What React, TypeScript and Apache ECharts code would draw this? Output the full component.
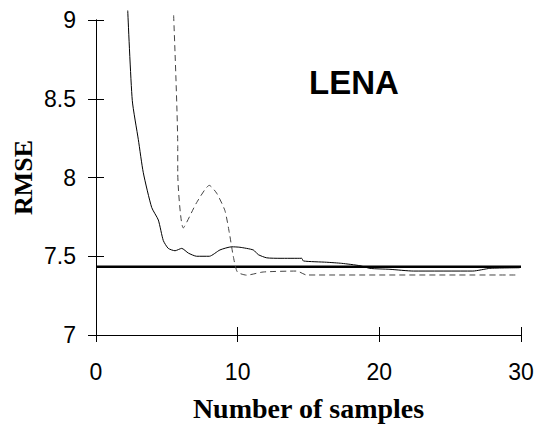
import React, { useEffect, useRef } from "react";
import * as echarts from "echarts";

const xTicks = [0, 10, 20, 30];
const yTicks = [7, 7.5, 8, 8.5, 9];
const title = "LENA";
const yName = "RMSE";
const xName = "Number of samples";

const solidX = [2.24, 2.56, 2.99, 3.34, 3.93, 4.4, 4.75, 5.1, 5.58, 6.05, 6.52, 7.1, 8.0, 8.75, 9.58, 10.16, 11.1, 11.46, 12.05, 12.99, 14.52, 14.64, 16.28, 17.34, 18.63, 19.34, 20.75, 22.4, 26.6, 27.8, 29.9];
const solidY = [9.06, 8.49, 8.24, 8.03, 7.81, 7.73, 7.6, 7.55, 7.535, 7.55, 7.52, 7.5, 7.5, 7.54, 7.56, 7.557, 7.54, 7.51, 7.49, 7.487, 7.487, 7.47, 7.462, 7.455, 7.44, 7.423, 7.417, 7.406, 7.406, 7.423, 7.427];

const dashedX = [5.48, 5.77, 5.77, 6.16, 7.1, 8.0, 8.52, 9.1, 9.41, 9.69, 9.98, 10.64, 11.8, 14.17, 14.87, 29.6];
const dashedY = [9.03, 8.196, 8.03, 7.68, 7.84, 7.95, 7.9, 7.79, 7.65, 7.5, 7.4, 7.38, 7.4, 7.406, 7.381, 7.381];

const refX = [0, 30];
const refY = [7.434, 7.434];

const zip = (xs: number[], ys: number[]) => xs.map((x, i) => [x, ys[i]]);

export default function App() {
  const ref = useRef<HTMLDivElement>(null);
  useEffect(() => {
    if (!ref.current) return;
    const chart = echarts.init(ref.current, undefined, { renderer: "svg" });
    const axisLabelStyle = { fontFamily: "Liberation Sans", fontSize: 23, color: "#000" };
    const baseX = {
      type: "value" as const,
      min: xTicks[0],
      max: xTicks[xTicks.length - 1],
      interval: 10,
      splitLine: { show: false },
      axisLine: { show: true, onZero: false, lineStyle: { color: "#000", width: 1 } },
    };
    const baseY = {
      type: "value" as const,
      min: yTicks[0],
      max: yTicks[yTicks.length - 1],
      interval: 0.5,
      splitLine: { show: false },
      axisLine: { show: true, onZero: false, lineStyle: { color: "#000", width: 1 } },
    };
    chart.setOption({
      animation: false,
      backgroundColor: "#fff",
      grid: { left: 96, right: 14, top: 20, bottom: 90, containLabel: false, outerBoundsMode: "none" },
      title: {
        text: title,
        left: 304,
        top: 61,
        textStyle: { fontFamily: "Liberation Sans", fontWeight: "bold", fontSize: 33, color: "#000" },
      },
      xAxis: [
        {
          ...baseX,
          name: xName,
          nameLocation: "middle",
          nameGap: 59,
          nameMoveOverlap: false,
          nameTextStyle: { fontFamily: "Liberation Serif", fontWeight: "bold", fontSize: 28, color: "#000", verticalAlign: "top" },
          axisTick: { show: true, inside: false, length: 7, lineStyle: { color: "#000" } },
          axisLabel: { ...axisLabelStyle, margin: 25, formatter: (v: number) => String(v) },
        },
        {
          ...baseX,
          position: "bottom",
          axisTick: { show: true, inside: true, length: 8, lineStyle: { color: "#000" } },
          axisLabel: { show: false },
        },
      ],
      yAxis: [
        {
          ...baseY,
          name: yName,
          nameLocation: "middle",
          nameGap: 60,
          nameRotate: 90,
          nameMoveOverlap: false,
          nameTextStyle: { fontFamily: "Liberation Serif", fontWeight: "bold", fontSize: 26, color: "#000" },
          axisTick: { show: true, inside: false, length: 8, lineStyle: { color: "#000" } },
          axisLabel: { ...axisLabelStyle, margin: 20, formatter: (v: number) => String(v) },
        },
        {
          ...baseY,
          position: "left",
          axisTick: { show: true, inside: true, length: 8, lineStyle: { color: "#000" } },
          axisLabel: { show: false },
        },
      ],
      series: [
        {
          type: "line",
          data: zip(refX, refY),
          symbol: "none",
          lineStyle: { color: "#000", width: 2.5 },
          z: 3,
        },
        {
          type: "line",
          data: zip(solidX, solidY),
          symbol: "none",
          clip: false,
          smooth: 0.2,
          lineStyle: { color: "#000", width: 1 },
          z: 4,
        },
        {
          type: "line",
          data: zip(dashedX, dashedY),
          symbol: "none",
          clip: false,
          smooth: 0.2,
          lineStyle: { color: "#444", width: 1, type: [6, 4] },
          z: 4,
        },
      ],
    });
    return () => chart.dispose();
  }, []);
  return <div ref={ref} style={{ width: 535, height: 425, position: "absolute", left: 0, top: 0 }} />;
}
